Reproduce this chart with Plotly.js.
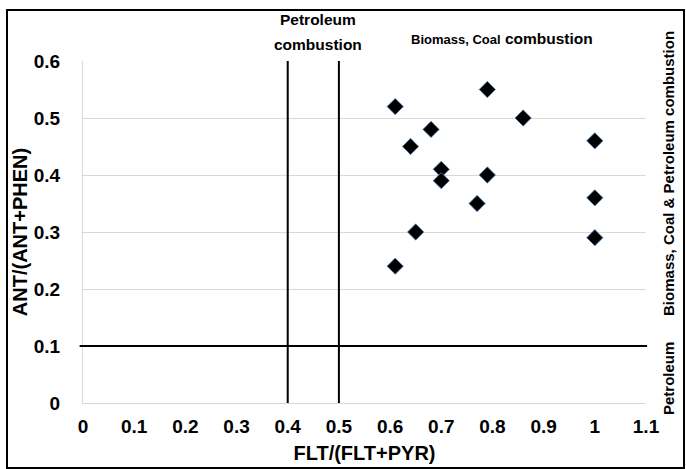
<!DOCTYPE html>
<html>
<head>
<meta charset="utf-8">
<script src="https://cdn.plot.ly/plotly-3.0.1.min.js"></script>
<style>html,body{margin:0;padding:0;background:#fff;}#chart{width:686px;height:469px;}</style>
</head>
<body>
<div id="chart"></div>
<script>
// Data
const fltRatio = [0.61, 0.79, 0.86, 0.68, 0.64, 1.00, 0.70, 0.70, 0.79, 0.77, 1.00, 0.65, 1.00, 0.61];
const antRatio = [0.52, 0.55, 0.50, 0.48, 0.45, 0.46, 0.41, 0.39, 0.40, 0.35, 0.36, 0.30, 0.29, 0.24];
const xTicks = [0, 0.1, 0.2, 0.3, 0.4, 0.5, 0.6, 0.7, 0.8, 0.9, 1, 1.1];
const xTickLabels = ['0', '0.1', '0.2', '0.3', '0.4', '0.5', '0.6', '0.7', '0.8', '0.9', '1', '1.1'];
const yTicks = [0, 0.1, 0.2, 0.3, 0.4, 0.5, 0.6];
const yTickLabels = ['0', '0.1', '0.2', '0.3', '0.4', '0.5', '0.6'];
const fltThresholds = [0.4, 0.5];
const antThreshold = 0.1;

const FONT = 'Liberation Sans, Arial, sans-serif';

const trace = {
  x: fltRatio, y: antRatio, type: 'scatter', mode: 'markers',
  marker: {symbol: 'diamond', size: 12.5, color: '#000000', line: {color: '#4a7ebb', width: 0.8}},
  hoverinfo: 'x+y', showlegend: false
};

const shapes = [];
fltThresholds.forEach(v => shapes.push({
  type: 'line', xref: 'x', yref: 'paper', x0: v, x1: v, y0: 0, y1: 1,
  line: {color: '#000', width: 2}
}));
shapes.push({type: 'line', xref: 'paper', yref: 'y', x0: -0.006, x1: 1.002, y0: antThreshold, y1: antThreshold,
  line: {color: '#000', width: 2}});
// outer chart border
shapes.push({type: 'rect', xref: 'paper', yref: 'paper', x0: -0.1350, x1: 1.0675, y0: -0.19, y1: 1.149,
  line: {color: '#000', width: 2}, fillcolor: 'rgba(0,0,0,0)', layer: 'above'});

const layout = {
  width: 686, height: 469,
  margin: {l: 83, r: 40, t: 61, b: 66},
  paper_bgcolor: '#fff', plot_bgcolor: '#fff',
  font: {family: FONT, color: '#000'},
  xaxis: {
    range: [0, 1.1], tickvals: xTicks, ticktext: xTickLabels,
    showgrid: false, zeroline: false, showline: true, linecolor: '#d9d9d9', linewidth: 1,
    ticks: '', ticklabelstandoff: 6,
    tickfont: {family: FONT, size: 19, weight: 'bold', color: '#000'},
    title: {text: 'FLT/(FLT+PYR)', font: {family: FONT, size: 20, weight: 'bold', color: '#000'}, standoff: 10},
    automargin: false
  },
  yaxis: {
    range: [0, 0.6], tickvals: yTicks, ticktext: yTickLabels,
    showgrid: true, gridcolor: '#d9d9d9', gridwidth: 1,
    zeroline: false, showline: true, linecolor: '#d9d9d9', linewidth: 1,
    ticks: '', ticklabelstandoff: 18,
    tickfont: {family: FONT, size: 19, weight: 'bold', color: '#000'},
    title: {text: 'ANT/(ANT+PHEN)', font: {family: FONT, size: 20, weight: 'bold', color: '#000'}, standoff: 0},
    automargin: false
  },
  shapes: shapes,
  annotations: [
    {xref: 'paper', yref: 'paper', x: 0.417, y: 1.12, text: 'Petroleum', showarrow: false,
     font: {family: FONT, size: 15.5, weight: 'bold', color: '#000'}, xanchor: 'center', yanchor: 'middle'},
    {xref: 'paper', yref: 'paper', x: 0.417, y: 1.047, text: 'combustion', showarrow: false,
     font: {family: FONT, size: 15.5, weight: 'bold', color: '#000'}, xanchor: 'center', yanchor: 'middle'},
    {xref: 'paper', yref: 'paper', x: 0.744, y: 1.067,
     text: '<span style="font-size:13px">Biomass, Coal</span> combustion', showarrow: false,
     font: {family: FONT, size: 15.5, weight: 'bold', color: '#000'}, xanchor: 'center', yanchor: 'middle'},
    {xref: 'paper', yref: 'paper', x: 1.039, y: 0.6725, text: 'Biomass, Coal &amp; Petroleum combustion', showarrow: false,
     textangle: -90, font: {family: FONT, size: 15, weight: 'bold', color: '#000'}, xanchor: 'center', yanchor: 'middle'},
    {xref: 'paper', yref: 'paper', x: 1.039, y: 0.073, text: 'Petroleum', showarrow: false,
     textangle: -90, font: {family: FONT, size: 15, weight: 'bold', color: '#000'}, xanchor: 'center', yanchor: 'middle'}
  ]
};

Plotly.newPlot('chart', [trace], layout, {displayModeBar: false, staticPlot: true});
</script>
</body>
</html>
